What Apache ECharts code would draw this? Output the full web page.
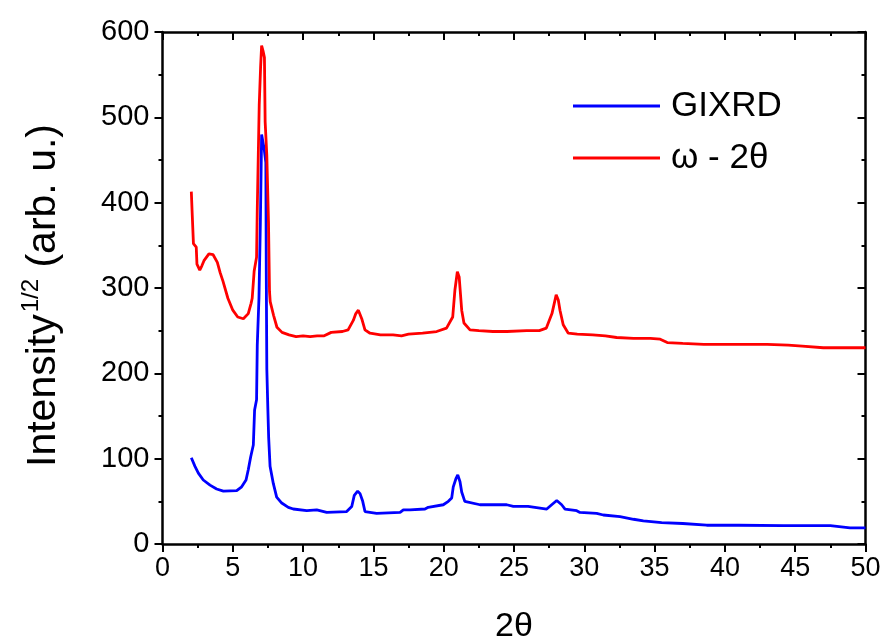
<!DOCTYPE html>
<html>
<head>
<meta charset="utf-8">
<script src="https://cdn.jsdelivr.net/npm/echarts@6/dist/echarts.min.js"></script>
<style>
  html, body { margin: 0; padding: 0; background: #fff; }
  #chart { width: 884px; height: 643px; }
</style>
</head>
<body>
<div id="chart"></div>
<script>
// X-ray diffraction scans: square root of intensity vs 2θ (degrees)
const gixrdTheta = [2.05, 2.31, 2.55, 2.9, 3.38, 3.85, 4.33, 5.28, 5.63, 5.94, 6.1, 6.27, 6.46, 6.55, 6.69, 6.74, 6.86, 6.96, 7.05,
  7.23, 7.35, 7.38, 7.42, 7.49, 7.55, 7.65, 7.88, 8.12, 8.48, 8.95, 9.3, 10.26, 10.97, 11.68, 13.1, 13.46, 13.64, 13.88, 14.05,
  14.24, 14.4, 15.23, 16.9, 17.13, 17.6, 18.67, 18.9, 19.97, 20.33, 20.57, 20.68, 20.88, 21.0, 21.16, 21.28, 21.5, 21.64, 22.58,
  24.48, 24.95, 26.0, 26.1, 27.33, 27.68, 28.04, 28.39, 28.63, 29.46, 29.69, 30.88, 31.35, 32.54, 33.5, 34.2, 35.5, 37, 38.7,
  41, 44.15, 47.5, 48.9, 50];
const gixrdIntensity = [101, 91, 83, 75, 69, 64.5, 62, 62.5, 67, 75, 87, 102, 116, 157, 169, 233, 288, 376, 480,
  463, 447, 320, 205, 160, 125, 91, 71, 55, 48, 43, 41, 39, 40, 37, 38, 44, 57, 62, 59,
  50, 38, 36, 37, 40, 40, 41, 43, 46, 50, 54, 67, 77, 81, 73, 61, 50, 48, 46,
  46, 44, 44, 42, 41, 46, 51, 46, 41, 39, 37, 36, 34, 32, 29, 27, 25, 24, 22,
  22, 21.5, 21.5, 19, 19];

const omegaTheta = [2.05, 2.1, 2.2, 2.4, 2.45, 2.65, 2.8, 2.95, 3.3, 3.6, 3.9, 4.1, 4.3, 4.65, 5.0, 5.35, 5.75, 6.1, 6.3, 6.38,
  6.5, 6.52, 6.69, 6.74, 6.88, 6.98, 7.05, 7.15, 7.25, 7.3, 7.42, 7.54, 7.61, 7.66, 7.9, 8.14, 8.5, 9.0, 9.5, 10.0, 10.5, 11.0,
  11.5, 12.0, 12.8, 13.2, 13.57, 13.75, 13.93, 14.17, 14.4, 14.76, 15.5, 16.4, 17.0, 17.5, 18.5, 19.5, 20.2, 20.64, 20.8, 20.97,
  21.1, 21.28, 21.44, 21.87, 22.5, 23.5, 24.5, 25.9, 26.8, 27.3, 27.7, 28.0, 28.15, 28.27, 28.5, 28.86, 29.5, 30.6, 31.5, 32.3,
  33.5, 34.7, 35.4, 35.9, 37.0, 38.5, 39.4, 41, 43, 44.5, 45.5, 47, 48.5, 50];
const omegaIntensity = [413, 392, 352, 348, 328, 321, 326, 332, 340, 339, 330, 318, 308, 288, 274, 266, 264, 270, 282, 288,
  288, 320, 336, 392, 515, 560, 584, 578, 570, 495, 455, 376, 296, 284, 268, 254, 248, 245, 243, 244, 243, 244,
  244, 248, 249, 251, 262, 270, 274, 264, 251, 247, 245, 245, 244, 246, 247, 249, 253, 266, 298, 319,
  313, 274, 259, 251, 250, 249, 249, 250, 250, 253, 270, 292, 286, 274, 257, 247, 246, 245, 244, 242,
  241, 241, 240, 236, 235, 234, 234, 234, 234, 233, 232, 230, 230, 230];

const xTicks = [0, 5, 10, 15, 20, 25, 30, 35, 40, 45, 50];
const yTicks = [0, 100, 200, 300, 400, 500, 600];

const zip = (xs, ys) => xs.map((x, i) => [x, ys[i]]);

const FONT = '"Liberation Sans", Arial, sans-serif';

// Frame axis: black line with major and minor ticks (outward on bottom/left, inward on top/right)
function frameAxis(inside, base) {
  return Object.assign({
    axisLine: { show: true, onZero: false, lineStyle: { color: '#000', width: 2.5 } },
    axisTick: { show: true, inside: inside, length: 8, lineStyle: { color: '#000', width: 2 } },
    minorTick: { show: true, splitNumber: 2, length: 4, lineStyle: { color: '#000', width: 2 } },
    splitLine: { show: false }
  }, base);
}

const chart = echarts.init(document.getElementById('chart'), null, { renderer: 'canvas' });
chart.setOption({
  animation: false,
  backgroundColor: '#fff',
  grid: { left: 162.5, right: 18.5, top: 32, bottom: 99, outerBoundsMode: 'none', containLabel: false },
  legend: {
    orient: 'vertical',
    left: 568,
    top: 80,
    icon: 'rect',
    itemWidth: 87,
    itemHeight: 3,
    itemGap: 10,
    textStyle: { fontFamily: FONT, fontSize: 35, color: '#000', lineHeight: 42, padding: [0, 0, 0, 6] },
    data: ['GIXRD', 'ω - 2θ']
  },
  graphic: [{
    type: 'text',
    left: 18,
    top: 124,
    rotation: Math.PI / 2,
    style: {
      text: '{t|Intensity}{s|1/2}{t| (arb. u.)}',
      rich: {
        t: { fontFamily: FONT, fontSize: 41, fill: '#000', lineHeight: 46, verticalAlign: 'bottom' },
        s: { fontFamily: FONT, fontSize: 24, fill: '#000', lineHeight: 46, verticalAlign: 'top', padding: [1, 0, 0, 2] }
      }
    }
  }],
  xAxis: [
    frameAxis(false, {
      type: 'value', min: xTicks[0], max: xTicks[xTicks.length - 1], interval: 5, position: 'bottom',
      name: '2θ', nameLocation: 'middle', nameGap: 66,
      nameTextStyle: { fontFamily: FONT, fontSize: 34, color: '#000' },
      axisLabel: { fontFamily: FONT, fontSize: 27, color: '#000', margin: 11 }
    }),
    frameAxis(true, {
      type: 'value', min: xTicks[0], max: xTicks[xTicks.length - 1], interval: 5, position: 'top',
      axisLabel: { show: false }
    })
  ],
  yAxis: [
    frameAxis(false, {
      type: 'value', min: yTicks[0], max: yTicks[yTicks.length - 1], interval: 100, position: 'left',
      axisLabel: { fontFamily: FONT, fontSize: 29, color: '#000', margin: 13 }
    }),
    frameAxis(true, {
      type: 'value', min: yTicks[0], max: yTicks[yTicks.length - 1], interval: 100, position: 'right',
      axisLabel: { show: false }
    })
  ],
  series: [
    {
      name: 'GIXRD', type: 'line', xAxisIndex: 0, yAxisIndex: 0,
      data: zip(gixrdTheta, gixrdIntensity),
      symbol: 'none', lineStyle: { color: '#0000ff', width: 2.8 }, itemStyle: { color: '#0000ff' }
    },
    {
      name: 'ω - 2θ', type: 'line', xAxisIndex: 0, yAxisIndex: 0,
      data: zip(omegaTheta, omegaIntensity),
      symbol: 'none', lineStyle: { color: '#ff0000', width: 2.8 }, itemStyle: { color: '#ff0000' }
    }
  ]
});
</script>
</body>
</html>
